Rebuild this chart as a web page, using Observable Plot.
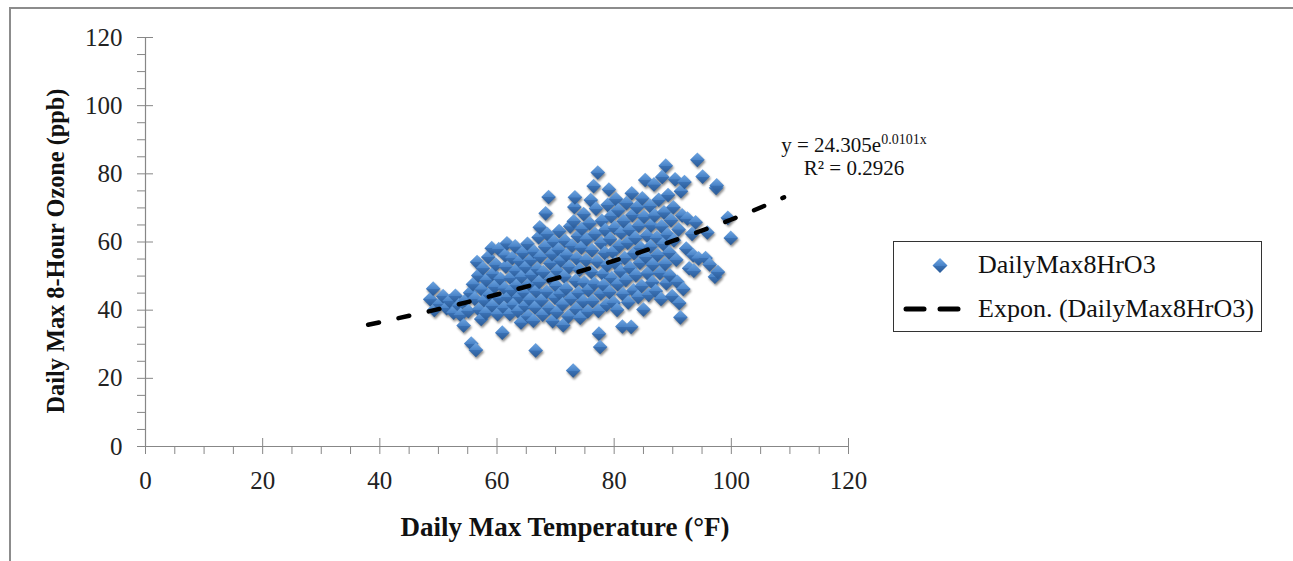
<!DOCTYPE html>
<html>
<head>
<meta charset="utf-8">
<script src="https://cdn.jsdelivr.net/npm/d3@7"></script>
<script src="https://cdn.jsdelivr.net/npm/@observablehq/plot@0.6"></script>
<style>
  html, body { margin: 0; padding: 0; background: #fff; }
  #wrap { position: relative; width: 1293px; height: 561px; overflow: hidden; font-family: "Liberation Serif", "Times New Roman", serif; }
  #frame { position: absolute; left: 9px; top: 7px; width: 1400px; height: 700px; border-top: 2px solid #8c8c8c; border-left: 2.5px solid #8c8c8c; pointer-events: none; }
  #chart { position: absolute; left: 0; top: 0; }
  .pts { filter: drop-shadow(1px 2px 1.2px rgba(0,0,0,0.45)); }
  #legend { position: absolute; left: 893px; top: 241px; width: 367px; height: 89px; border: 1.2px solid #333; background: #fff; font-size: 26px; color: #111; }
  #legend .row { position: absolute; left: 0; height: 30px; display: flex; align-items: center; }
  #legend .lbl { position: absolute; left: 84px; white-space: nowrap; line-height: 30px; }
</style>
</head>
<body>
<div id="wrap">
  <div id="chart"></div>
  <div id="frame"></div>
  <div id="legend">
    <div class="row" style="top:8px;width:100%">
      <svg width="80" height="30" style="position:absolute;left:0;top:0">
        <defs>
          <linearGradient id="lg" x1="0" y1="0" x2="0" y2="1">
            <stop offset="0" stop-color="#6fa6e2"/><stop offset="0.5" stop-color="#4a84c8"/>
            <stop offset="0.52" stop-color="#3a71b4"/><stop offset="1" stop-color="#2b5b97"/>
          </linearGradient>
        </defs>
        <polygon points="46,8 53.5,15.5 46,23 38.5,15.5" fill="url(#lg)"/>
      </svg>
      <span class="lbl">DailyMax8HrO3</span>
    </div>
    <div class="row" style="top:52px;width:100%">
      <svg width="80" height="30" style="position:absolute;left:0;top:0">
        <line x1="12" y1="15" x2="30" y2="15" stroke="#000" stroke-width="5" stroke-linecap="round"/>
        <line x1="46" y1="15" x2="64" y2="15" stroke="#000" stroke-width="5" stroke-linecap="round"/>
      </svg>
      <span class="lbl">Expon. (DailyMax8HrO3)</span>
    </div>
  </div>
</div>
<script>
// ---- Data ----
const tempF = [
  48.6,49.1,49.3,50.2,50.8,51.4,51.9,52.6,52.9,53.5,53.8,54.3,54.6,55.1,55.4,55.6,56.4,55.9,56.2,56.8,56.6,56.9,57.3,
  57.4,57.6,57.8,58.2,58.1,58.5,58.7,59.1,59.3,59.2,59.6,59.8,60.1,60.3,60.4,60.6,60.9,
  61.2,61.3,61.5,61.4,61.7,61.9,62.2,62.3,62.6,62.5,62.8,63.1,63.2,63.4,63.6,63.8,63.9,
  64.1,64.2,64.4,64.6,64.8,64.9,65.2,65.3,65.5,65.6,65.8,65.9,66.2,66.3,66.5,66.7,66.6,66.9,
  67.1,67.3,67.2,67.4,67.6,67.8,67.9,68.2,68.3,68.5,68.6,68.8,68.9,69.1,69.2,69.4,69.5,69.7,69.9,
  70.1,70.3,70.2,70.5,70.6,70.8,70.9,71.2,71.3,71.5,71.6,71.8,71.9,72.2,72.3,72.5,72.6,72.8,
  73.0,73.1,73.2,73.3,73.4,73.5,73.6,73.8,73.9,74.1,74.2,74.4,74.5,74.7,74.8,74.9,75.2,75.3,75.5,75.6,75.8,
  76.0,76.1,76.2,76.3,76.5,76.6,76.7,76.9,77.1,77.2,77.3,77.4,77.6,77.7,77.8,77.9,78.1,78.2,78.4,78.5,78.7,78.9,78.8,
  79.1,79.2,79.3,79.5,79.6,79.8,79.9,80.1,80.2,80.3,80.5,80.6,80.7,80.9,81.1,81.2,81.4,81.5,81.6,81.8,
  82.0,82.1,82.3,82.4,82.6,82.7,82.9,83.0,83.1,83.3,83.4,83.6,83.7,83.9,84.1,84.2,84.4,84.5,84.7,84.8,
  85.0,85.1,85.3,85.4,85.6,85.7,85.9,86.1,86.2,86.3,86.5,86.6,86.8,86.9,87.1,87.3,87.4,87.6,87.8,
  88.0,88.1,88.2,88.4,88.5,88.7,88.8,88.9,89.1,89.2,89.4,89.5,89.7,89.9,90.1,90.2,90.4,90.6,90.8,
  91.0,91.1,91.3,91.4,91.6,91.8,92.0,92.3,92.5,92.8,93.3,93.5,93.6,93.9,94.2,94.4,
  95.1,95.6,95.9,96.3,97.2,97.4,97.5,97.7,99.4,99.9
];
const ozonePpb = [
  43.2,46.3,40.1,41.8,44.1,40.6,42.7,39.3,44.2,41.4,38.6,35.5,42.8,39.7,45.1,30.2,28.3,47.6,43.4,50.2,54.1,40.2,37.4,
  46.1,52.3,42.9,48.8,39.2,55.6,44.6,58.2,50.7,41.3,46.9,53.4,38.8,57.9,43.5,49.2,33.4,
  40.7,46.4,52.8,56.1,59.6,43.8,38.9,49.5,55.3,45.9,41.6,58.7,51.6,47.3,39.7,43.9,54.4,
  36.4,49.8,56.9,45.2,41.3,52.6,59.5,38.2,47.7,43.1,54.8,50.3,36.9,57.2,40.8,45.6,28.2,52.1,
  61.4,64.3,48.3,55.7,42.9,38.7,51.2,58.6,68.4,45.4,62.3,73.2,40.6,53.8,49.1,56.4,36.8,60.1,43.7,
  47.2,51.5,39.4,57.8,63.2,44.8,54.6,41.7,35.6,49.9,60.4,46.3,56.1,38.2,52.7,64.6,43.4,58.9,
  22.3,66.1,70.3,73.1,48.6,40.3,55.2,61.7,45.1,51.9,37.8,58.4,63.9,42.6,68.2,48.1,54.7,60.8,39.6,45.9,65.5,
  72.3,51.2,57.6,42.7,76.4,47.8,62.4,69.8,54.3,80.4,39.8,33.1,29.2,44.9,59.7,66.2,50.6,47.3,56.8,63.5,41.6,70.9,53.2,
  75.4,45.3,60.9,67.6,49.4,57.1,42.2,64.2,53.8,72.6,40.1,47.6,69.3,58.9,51.4,62.7,35.2,44.7,66.1,55.3,
  48.9,71.4,59.8,42.3,63.6,52.4,35.1,74.3,67.9,45.8,56.7,61.2,50.3,70.2,43.9,64.8,53.9,58.3,47.1,72.8,
  40.2,67.4,78.2,55.6,61.9,50.8,44.5,70.6,58.7,64.9,48.2,53.4,76.9,67.8,45.6,61.3,56.2,72.4,50.9,
  43.3,64.6,79.1,59.4,68.7,53.6,82.4,47.9,62.2,73.8,56.9,50.2,66.4,44.1,70.2,60.5,78.4,54.8,48.3,
  63.7,42.1,37.9,74.9,67.8,46.2,77.6,58.1,66.9,52.3,62.4,56.1,51.6,65.8,84.1,55.2,
  79.2,55.3,62.8,53.4,49.8,75.9,76.6,51.2,67.1,61.2
];
// exponential trendline
const trendX = [38, 50, 60, 70, 80, 90, 100, 109];
const trendY = [35.7, 40.3, 44.6, 49.3, 54.5, 60.3, 66.6, 73.1];
const majorTicks = [0, 20, 40, 60, 80, 100, 120];
const minorTicks = [5, 10, 15, 25, 30, 35, 45, 50, 55, 65, 70, 75, 85, 90, 95, 105, 110, 115];
const xTitle = "Daily Max Temperature (°F)";
const yTitle = "Daily Max 8-Hour Ozone (ppb)";

const points = tempF.map((t, i) => ({t, o: ozonePpb[i]}));
const trend = trendX.map((t, i) => ({t, o: trendY[i]}));
const gray = "#878787";

const defs = () => {
  const ns = "http://www.w3.org/2000/svg";
  const d = document.createElementNS(ns, "defs");
  d.innerHTML = `<linearGradient id="dg" x1="0" y1="0" x2="0" y2="1">
    <stop offset="0" stop-color="#6fa6e2"/><stop offset="0.5" stop-color="#4a84c8"/>
    <stop offset="0.52" stop-color="#3a71b4"/><stop offset="1" stop-color="#2b5b97"/></linearGradient>`;
  return d;
};

const chart = Plot.plot({
  width: 1293,
  height: 561,
  marginLeft: 145,
  marginRight: 445,
  marginTop: 37,
  marginBottom: 115,
  style: {fontFamily: "'Liberation Serif', 'Times New Roman', serif", fontSize: "25px", color: "#222", background: "transparent"},
  x: {domain: [0, 120]},
  y: {domain: [0, 120]},
  marks: [
    defs,
    Plot.ruleY([0], {stroke: gray, strokeWidth: 1.2}),
    Plot.ruleX([0], {stroke: gray, strokeWidth: 1.2}),
    Plot.axisX(majorTicks, {tickSize: 16, dy: -8, tickPadding: 17, stroke: gray, label: null, fontSize: 25, fill: "#222"}),
    Plot.axisX(minorTicks, {tickSize: 8, tickFormat: () => "", stroke: gray, label: null}),
    Plot.axisY(majorTicks, {tickSize: 16, dx: 8, tickPadding: 15, stroke: gray, label: null, fontSize: 25, fill: "#222"}),
    Plot.axisY(minorTicks, {tickSize: 8, tickFormat: () => "", stroke: gray, label: null}),
    Plot.dot(points, {x: "t", y: "o", symbol: "diamond2", r: 6.6, fill: "url(#dg)", stroke: "none", className: "pts"}),
    Plot.line(trend, {x: "t", y: "o", curve: "natural", stroke: "#000", strokeWidth: 4.5, strokeDasharray: "11,20", strokeLinecap: "round"}),
    Plot.text([xTitle], {frameAnchor: "bottom", dx: 68, dy: 81, lineAnchor: "middle", textAnchor: "middle", fontWeight: "bold", fontSize: 27, fill: "#111"}),
    Plot.text([yTitle], {frameAnchor: "left", dx: -89, dy: 9, rotate: -90, lineAnchor: "middle", textAnchor: "middle", fontWeight: "bold", fontSize: 24.3, fill: "#111"})
  ]
});
document.getElementById("chart").appendChild(chart);

// trendline equation label
const ns = "http://www.w3.org/2000/svg";
const eq = document.createElementNS(ns, "text");
eq.setAttribute("x", 854); eq.setAttribute("y", 152);
eq.setAttribute("text-anchor", "middle");
eq.setAttribute("font-size", "21"); eq.setAttribute("fill", "#111");
eq.innerHTML = `y = 24.305e<tspan font-size="14" dy="-8">0.0101x</tspan>`;
chart.appendChild(eq);
const r2 = document.createElementNS(ns, "text");
r2.setAttribute("x", 854); r2.setAttribute("y", 175);
r2.setAttribute("text-anchor", "middle");
r2.setAttribute("font-size", "21"); r2.setAttribute("fill", "#111");
r2.textContent = "R² = 0.2926";
chart.appendChild(r2);
</script>
</body>
</html>
